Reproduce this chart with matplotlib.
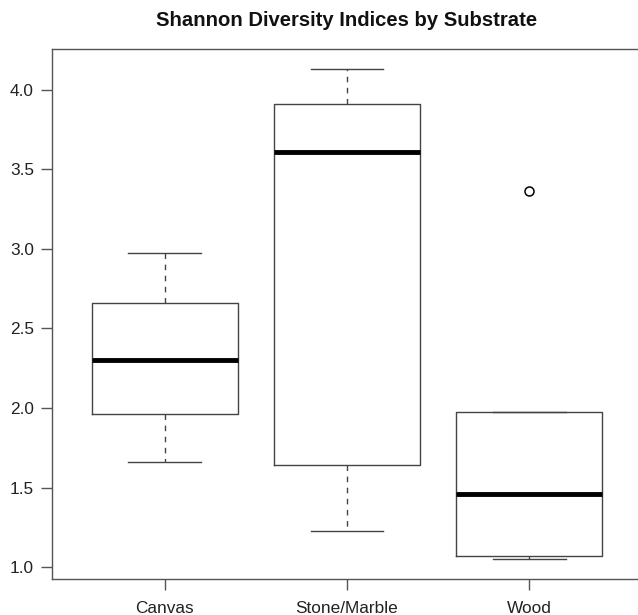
import matplotlib
matplotlib.use("Agg")
import matplotlib.pyplot as plt

plt.rcParams['font.family'] = ['Liberation Sans', 'DejaVu Sans']

# boxplot summary
labels = ["Canvas", "Stone/Marble", "Wood"]
whislo = [1.66, 1.23, 1.05]
q1 = [1.965, 1.64, 1.07]
med = [2.305, 3.61, 1.46]
q3 = [2.66, 3.91, 1.975]
whishi = [2.975, 4.13, 1.975]
fliers = [[], [], [3.365]]

stats = []
for i in range(len(labels)):
    stats.append(dict(label=labels[i], whislo=whislo[i], q1=q1[i], med=med[i],
                      q3=q3[i], whishi=whishi[i], fliers=fliers[i]))

fig = plt.figure(figsize=(6.38, 6.15), dpi=100)
fig.patch.set_facecolor('white')
ax = fig.add_axes([52 / 638, 36 / 615, 590 / 638, 530 / 615])

gray = '#444444'
ax.bxp(stats, positions=[1, 2, 3], widths=0.8,
       boxprops=dict(color=gray, linewidth=1.0),
       whiskerprops=dict(color=gray, linewidth=1.0, linestyle=(0, (4, 4))),
       capprops=dict(color=gray, linewidth=1.0),
       capwidths=0.4,
       medianprops=dict(color='black', linewidth=3.5, solid_capstyle='butt'),
       flierprops=dict(marker='o', markerfacecolor='white', markeredgecolor='black',
                       markersize=6.5, markeredgewidth=1.1))

ax.set_xlim(0.38, 3.62)
ax.set_ylim(0.927, 4.255)
ax.set_yticks([1.0, 1.5, 2.0, 2.5, 3.0, 3.5, 4.0])
ax.set_yticklabels(["1.0", "1.5", "2.0", "2.5", "3.0", "3.5", "4.0"])
ax.set_xticks([1, 2, 3])
ax.set_xticklabels(labels)

for s in ax.spines.values():
    s.set_color('#555555')
    s.set_linewidth(1.0)
ax.tick_params(axis='both', colors='#555555', length=8, width=1.0, labelsize=12.4,
               labelcolor='#222222')
ax.tick_params(axis='y', pad=5)
ax.tick_params(axis='x', pad=8)

fig.text(347 / 638, 1 - 21 / 615, "Shannon Diversity Indices by Substrate",
         ha='center', va='center', fontsize=14.6, fontweight='bold', color='#111111')

fig.savefig("out.png", dpi=100)
